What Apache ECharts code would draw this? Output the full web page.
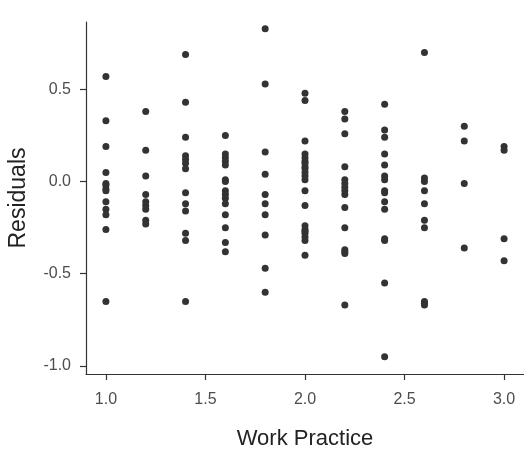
<!DOCTYPE html>
<html>
<head>
<meta charset="utf-8">
<script src="https://cdn.jsdelivr.net/npm/echarts@6/dist/echarts.min.js"></script>
<style>
  html, body { margin: 0; padding: 0; background: #fff; }
  #chart { width: 524px; height: 450px; }
</style>
</head>
<body>
<div id="chart"></div>
<script>
// work practice levels (x) and the residuals seen at each level
const levels = [1.0, 1.2, 1.4, 1.6, 1.8, 2.0, 2.2, 2.4, 2.6, 2.8, 3.0]
const res10 = [0.57, 0.33, 0.19, 0.05, -0.01, -0.02, -0.04, -0.05, -0.11, -0.15, -0.18, -0.26, -0.65]
const res12 = [0.38, 0.17, 0.03, -0.07, -0.11, -0.13, -0.15, -0.21, -0.23]
const res14 = [0.69, 0.43, 0.24, 0.14, 0.12, 0.10, 0.07, -0.06, -0.12, -0.16, -0.28, -0.32, -0.65]
const res16 = [0.25, 0.15, 0.13, 0.11, 0.09, 0.01, 0.00, -0.05, -0.07, -0.09, -0.12, -0.18, -0.25, -0.33, -0.38]
const res18 = [0.83, 0.53, 0.16, 0.04, -0.07, -0.12, -0.18, -0.29, -0.47, -0.60]
const res20 = [0.48, 0.44, 0.22, 0.15, 0.13, 0.11, 0.10, 0.08, 0.07, 0.05, 0.03, 0.01, -0.05, -0.13, -0.24, -0.26, -0.27, -0.28, -0.30, -0.32, -0.40]
const res22 = [0.38, 0.34, 0.26, 0.08, 0.01, -0.01, -0.03, -0.05, -0.07, -0.14, -0.25, -0.37, -0.38, -0.39, -0.67]
const res24 = [0.42, 0.28, 0.24, 0.15, 0.09, 0.03, 0.01, -0.05, -0.06, -0.11, -0.15, -0.31, -0.32, -0.55, -0.95]
const res26 = [0.70, 0.02, 0.00, -0.05, -0.12, -0.21, -0.25, -0.65, -0.66, -0.67]
const res28 = [0.30, 0.22, -0.01, -0.36]
const res30 = [0.19, 0.17, -0.31, -0.43]

const xTicks = [1.0, 1.5, 2.0, 2.5, 3.0]
const yTicks = [-1.0, -0.5, 0.0, 0.5]

const groups = [res10, res12, res14, res16, res18, res20, res22, res24, res26, res28, res30]
let points = []
groups.forEach((g, i) => {
  g.forEach(v => points.push([levels[i], v]))
})

const chart = echarts.init(document.getElementById('chart'))
const font = 'Liberation Sans, Arial, sans-serif'

chart.setOption({
  animation: false,
  grid: {
    left: 86,
    right: 0,
    top: 22,
    bottom: 76,
    outerBoundsMode: 'none'
  },
  xAxis: {
    type: 'value',
    min: 0.9,
    max: 3.1,
    name: 'Work Practice',
    nameLocation: 'middle',
    nameGap: 54,
    nameTextStyle: { fontFamily: font, fontSize: 22, color: '#222' },
    splitLine: { show: false },
    axisLine: { onZero: false, lineStyle: { color: '#333', width: 1.2 } },
    axisTick: { customValues: xTicks, length: 6, lineStyle: { color: '#333', width: 1.2 } },
    axisLabel: {
      customValues: xTicks,
      margin: 18,
      fontFamily: font,
      fontSize: 16,
      color: '#4d4d4d',
      formatter: v => v.toFixed(1)
    }
  },
  yAxis: {
    type: 'value',
    min: -1.044,
    max: 0.866,
    name: 'Residuals',
    nameLocation: 'middle',
    nameRotate: 90,
    nameGap: 56,
    nameTextStyle: { fontFamily: font, fontSize: 23, color: '#222' },
    splitLine: { show: false },
    axisLine: { show: true, onZero: false, lineStyle: { color: '#333', width: 1.2 } },
    axisTick: { show: true, customValues: yTicks, length: 6, lineStyle: { color: '#333', width: 1.2 } },
    axisLabel: {
      customValues: yTicks,
      margin: 15,
      fontFamily: font,
      fontSize: 16,
      color: '#4d4d4d',
      formatter: v => v.toFixed(1)
    }
  },
  series: [{
    type: 'scatter',
    data: points,
    symbolSize: 7,
    itemStyle: { color: '#333', opacity: 1 }
  }]
})
</script>
</body>
</html>
